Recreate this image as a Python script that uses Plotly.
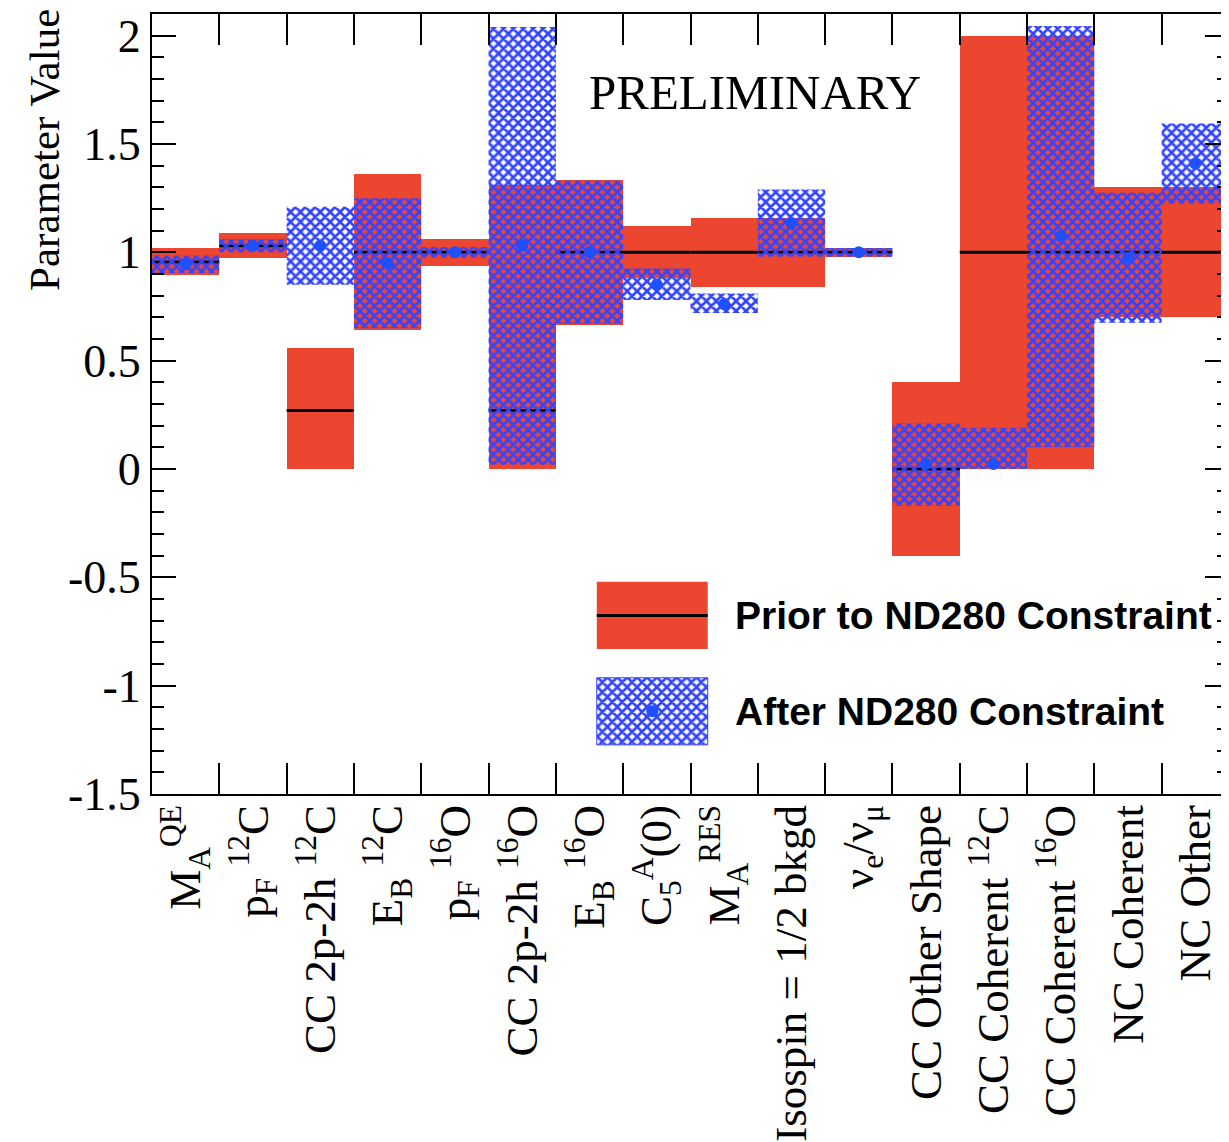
import plotly.graph_objects as go

# ---------------- data ----------------
labels = [
    "M<sub>A</sub><sup>QE</sup>",
    "p<sub>F</sub> <sup>12</sup>C",
    "CC 2p-2h <sup>12</sup>C",
    "E<sub>B</sub> <sup>12</sup>C",
    "p<sub>F</sub> <sup>16</sup>O",
    "CC 2p-2h <sup>16</sup>O",
    "E<sub>B</sub> <sup>16</sup>O",
    "C<sub>5</sub><sup>A</sup>(0)",
    "M<sub>A</sub><sup>RES</sup>",
    "Isospin = 1/2 bkgd",
    "ν<sub>e</sub>/ν<sub>μ</sub>",
    "CC Other Shape",
    "CC Coherent <sup>12</sup>C",
    "CC Coherent <sup>16</sup>O",
    "NC Coherent",
    "NC Other",
]
prior_value = [0.955, 1.03, 0.27, 1.0, 1.0, 0.27, 1.0, 1.0, 1.0, 1.0, 1.0, 0.0, 1.0, 1.0, 1.0, 1.0]
prior_low   = [0.895, 0.975, 0.0, 0.64, 0.935, 0.0, 0.665, 0.88, 0.84, 0.84, 0.98, -0.40, 0.0, 0.0, 0.70, 0.70]
prior_high  = [1.02, 1.09, 0.56, 1.36, 1.06, 1.31, 1.335, 1.12, 1.16, 1.16, 1.02, 0.40, 2.0, 2.0, 1.30, 1.30]
after_value = [0.945, 1.03, 1.03, 0.95, 1.0, 1.03, 1.0, 0.85, 0.76, 1.135, 1.0, 0.023, 0.023, 1.075, 0.975, 1.41]
after_low   = [0.905, 1.0, 0.85, 0.65, 0.975, 0.02, 0.67, 0.78, 0.72, 0.98, 0.98, -0.17, 0.0, 0.10, 0.675, 1.225]
after_high  = [0.985, 1.06, 1.21, 1.25, 1.025, 2.04, 1.33, 0.925, 0.81, 1.29, 1.02, 0.21, 0.19, 2.045, 1.275, 1.595]
y_ticks = [-1.5, -1, -0.5, 0, 0.5, 1, 1.5, 2]
y_tick_text = ["-1.5", "-1", "-0.5", "0", "0.5", "1", "1.5", "2"]

RED = "#EC4530"
BLUE = "#3344FF"
DOT = "#1E50FF"
SERIF = "Liberation Serif"
SANS = "Liberation Sans"

xs = list(range(len(labels)))
fig = go.Figure()

# prior boxes
fig.add_trace(go.Bar(
    x=xs, y=[h - l for h, l in zip(prior_high, prior_low)], base=prior_low,
    width=1.0, marker=dict(color=RED, line=dict(width=0)),
    showlegend=False, hoverinfo="skip"))

# prior central lines
lx, ly = [], []
for i, v in enumerate(prior_value):
    lx += [i - 0.5, i + 0.5, None]
    ly += [v, v, None]
fig.add_trace(go.Scatter(x=lx, y=ly, mode="lines", line=dict(color="black", width=3),
                         showlegend=False, hoverinfo="skip"))

# after boxes (hatched)
bx, by = [], []
for i, (lo, hi) in enumerate(zip(after_low, after_high)):
    bx += [i - 0.5, i + 0.5, i + 0.5, i - 0.5, i - 0.5, None]
    by += [lo, lo, hi, hi, lo, None]
hatch = dict(shape="x", fgcolor=BLUE, bgcolor="rgba(0,0,0,0)", size=7, solidity=0.62, fillmode="replace")
fig.add_trace(go.Scatter(x=bx, y=by, mode="none", fill="toself", fillcolor="rgba(0,0,0,0)",
                         fillpattern=hatch, showlegend=False, hoverinfo="skip"))

# after central points
fig.add_trace(go.Scatter(x=xs, y=after_value, mode="markers",
                         marker=dict(color=DOT, size=12, symbol="circle"),
                         showlegend=False, hoverinfo="skip"))

# ---------------- legend (drawn in overlay axes, fraction of plot area) ----------------
def box(x0, x1, y0, y1):
    return [x0, x1, x1, x0, x0], [y0, y0, y1, y1, y0]

rx, ry = box(0.413, 0.516, 0.186, 0.272)
fig.add_trace(go.Scatter(x=rx, y=ry, mode="none", fill="toself", fillcolor=RED,
                         xaxis="x2", yaxis="y2", showlegend=False, hoverinfo="skip"))
fig.add_trace(go.Scatter(x=[0.413, 0.516], y=[0.229, 0.229], mode="lines",
                         line=dict(color="black", width=3),
                         xaxis="x2", yaxis="y2", showlegend=False, hoverinfo="skip"))
hx, hy = box(0.413, 0.516, 0.063, 0.149)
fig.add_trace(go.Scatter(x=hx, y=hy, mode="lines", fill="toself", fillcolor="rgba(0,0,0,0)",
                         line=dict(color=BLUE, width=1), fillpattern=hatch,
                         xaxis="x2", yaxis="y2", showlegend=False, hoverinfo="skip"))
fig.add_trace(go.Scatter(x=[0.4645], y=[0.106], mode="markers",
                         marker=dict(color=DOT, size=12),
                         xaxis="x2", yaxis="y2", showlegend=False, hoverinfo="skip"))

annotations = [
    dict(text="Prior to ND280 Constraint", xref="paper", yref="paper", x=0.5395, y=0.229,
         xanchor="left", yanchor="middle", showarrow=False,
         font=dict(family=SANS, size=39, color="black", weight="bold")),
    dict(text="After ND280 Constraint", xref="paper", yref="paper", x=0.5395, y=0.106,
         xanchor="left", yanchor="middle", showarrow=False,
         font=dict(family=SANS, size=39, color="black", weight="bold")),
    dict(text="PRELIMINARY", xref="paper", yref="paper", x=0.560, y=0.899,
         xanchor="center", yanchor="middle", showarrow=False,
         font=dict(family=SERIF, size=49, color="black")),
    dict(text="Parameter Value", xref="paper", yref="paper", x=-0.0994, y=1.009,
         xanchor="center", yanchor="top", textangle=-90, showarrow=False,
         font=dict(family=SERIF, size=43, color="black")),
]

fig.update_layout(
    width=1221, height=1134,
    margin=dict(l=144, r=0, t=6, b=348, pad=0),
    template="none",
    paper_bgcolor="white", plot_bgcolor="white",
    showlegend=False, bargap=0,
    annotations=annotations,
    xaxis=dict(
        range=[-0.5, 15.5], tickmode="array", tickvals=xs, ticktext=labels,
        tickangle=-90, ticks="inside", ticklen=0, tickwidth=0,
        ticklabelstandoff=-9,
        tickfont=dict(family=SERIF, size=45, color="black"),
        showline=True, linecolor="black", linewidth=2, mirror="allticks",
        showgrid=False, zeroline=False, automargin=False,
        minor=dict(tickmode="linear", tick0=-0.5, dtick=1, ticks="inside",
                   ticklen=31, tickwidth=2, tickcolor="black", showgrid=False),
    ),
    yaxis=dict(
        range=[-1.5, 2.1], tickmode="array", tickvals=y_ticks, ticktext=y_tick_text,
        ticks="inside", ticklen=24, tickwidth=2, tickcolor="black",
        tickfont=dict(family=SERIF, size=46, color="black"),
        showline=True, linecolor="black", linewidth=2, mirror="allticks",
        showgrid=False, zeroline=False, automargin=False,
        minor=dict(tickmode="linear", tick0=0, dtick=0.1, ticks="inside",
                   ticklen=12, tickwidth=2, tickcolor="black", showgrid=False),
    ),
    xaxis2=dict(range=[0, 1], overlaying="x", anchor="y2", visible=False, fixedrange=True),
    yaxis2=dict(range=[0, 1], overlaying="y", anchor="x2", visible=False, fixedrange=True),
)

fig.write_html("out.html")
